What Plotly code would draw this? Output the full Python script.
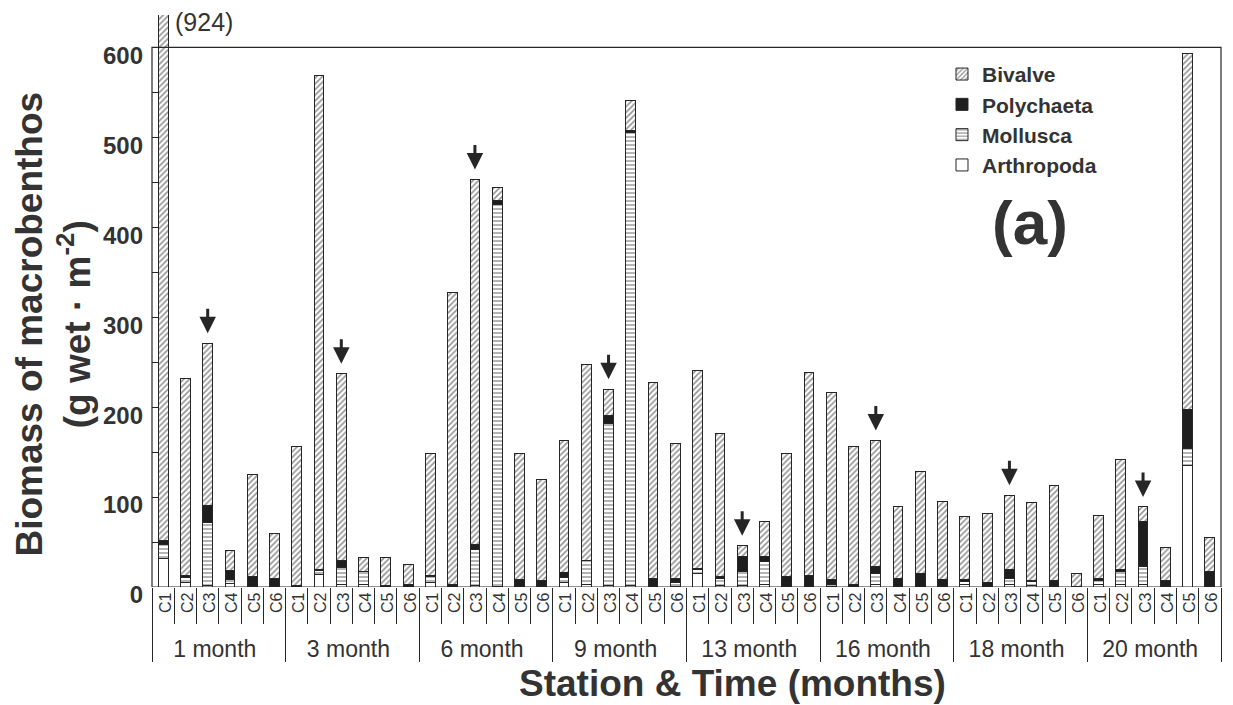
import plotly.graph_objects as go

months = ["1 month", "3 month", "6 month", "9 month", "13 month", "16 month", "18 month", "20 month"]
stations = ["C1", "C2", "C3", "C4", "C5", "C6"]

arthropoda = [32, 5, 2, 4, 1, 0,
              0, 14, 3, 3, 0, 0,
              5, 0, 2, 1, 0, 0,
              5, 3, 2, 2, 0, 1,
              15, 2, 2, 3, 0, 0,
              1, 0, 3, 0, 0, 0,
              3, 0, 3, 2, 0, 0,
              3, 3, 3, 0, 135, 0]
mollusca = [15, 6, 70, 4, 0, 0,
            0, 4, 19, 14, 0, 0,
            7, 0, 40, 424, 0, 0,
            6, 26, 180, 503, 0, 4,
            4, 8, 15, 25, 0, 0,
            2, 1, 12, 0, 0, 0,
            3, 0, 7, 4, 0, 0,
            4, 14, 20, 0, 19, 0]
polychaeta = [5, 2, 19, 10, 11, 10,
              2, 1, 8, 0, 2, 3,
              1, 3, 5, 5, 8, 7,
              5, 1, 9, 3, 9, 5,
              2, 2, 17, 6, 12, 13,
              5, 2, 8, 9, 15, 8,
              2, 5, 9, 1, 7, 1,
              2, 2, 50, 7, 43, 17]
bivalve = [872, 219, 180, 23, 113, 49,
           154, 550, 207, 16, 31, 22,
           135, 324, 406, 14, 140, 113,
           147, 217, 29, 33, 218, 150,
           220, 159, 12, 39, 136, 226,
           208, 153, 140, 80, 113, 87,
           70, 77, 83, 87, 106, 14,
           70, 123, 16, 37, 396, 38]

arrow_station = "C3"
offscale_label = "(924)"

x_outer = [m for m in months for _ in stations]
x_inner = [f"<span style='font-size:16px'>{s}</span>" for _ in months for s in stations]
x = [x_outer, x_inner]
station_of = [s for _ in months for s in stations]

ink = "#262626"
txt = "#333333"
font_family = "Liberation Sans, Arial, sans-serif"

fig = go.Figure()
series = [
    ("Arthropoda", arthropoda, dict(color="white")),
    ("Mollusca", mollusca, dict(color="white", pattern=dict(shape="-", fgcolor=ink, bgcolor="white", size=4, solidity=0.35))),
    ("Polychaeta", polychaeta, dict(color="#1e1e1e")),
    ("Bivalve", bivalve, dict(color="white", pattern=dict(shape="/", fgcolor=ink, bgcolor="white", size=4, solidity=0.4))),
]
for name, vals, mk in series:
    mk = dict(mk)
    mk["line"] = dict(color=ink, width=1)
    fig.add_trace(go.Bar(name=name, x=x, y=vals, marker=mk))

totals = [a + b + c + d for a, b, c, d in zip(arthropoda, mollusca, polychaeta, bivalve)]

annotations = []
for i, s in enumerate(station_of):
    if s == arrow_station:
        annotations.append(dict(x=i, y=totals[i], xref="x", yref="y", text="", showarrow=True,
                                ax=0, ay=-36, arrowhead=2, arrowsize=1.1, arrowwidth=3,
                                arrowcolor=ink, standoff=10))

annotations += [
    dict(x=0.45, y=628, xref="x", yref="y", text=offscale_label, showarrow=False,
         xanchor="left", yanchor="middle",
         font=dict(size=25, color=txt, family=font_family)),
    dict(x=0.821, y=0.638, xref="paper", yref="paper", text="<b>(a)</b>", showarrow=False,
         xanchor="center", yanchor="middle",
         font=dict(size=62, color=txt, family=font_family)),
    dict(x=0.5426, y=-0.168, xref="paper", yref="paper", text="<b>Station &amp; Time (months)</b>",
         showarrow=False, xanchor="center", yanchor="middle",
         font=dict(size=37, color=txt, family=font_family)),
    dict(x=-0.092, y=0.46, xref="paper", yref="paper",
         text="<b>Biomass of macrobenthos<br>(g wet · m<sup>-2</sup>)</b>", textangle=-90,
         showarrow=False, xanchor="center", yanchor="middle",
         font=dict(size=37, color=txt, family=font_family)),
]

fig.update_layout(
    width=1225, height=697,
    barmode="stack", bargap=0.56,
    plot_bgcolor="white", paper_bgcolor="white",
    margin=dict(l=144, r=12, t=7, b=118),
    font=dict(family=font_family, color=ink),
    showlegend=True,
    legend=dict(traceorder="reversed", x=0.739, y=0.932, xanchor="left", yanchor="top",
                font=dict(size=21, color=txt, family=font_family, weight="bold"),
                bgcolor="rgba(0,0,0,0)", tracegroupgap=0, itemclick=False),
    annotations=annotations,
    shapes=[dict(type="rect", xref="paper", yref="y", x0=0, x1=1, y0=0, y1=600,
                 line=dict(color=ink, width=1.2), layer="above")],
)
fig.update_xaxes(type="multicategory", showline=False, showgrid=False,
                 tickmode="linear", tick0=0, dtick=1,
                 ticks="outside", tickson="boundaries", ticklen=36, tickcolor=ink, tickwidth=1,
                 tickangle=-90, tickfont=dict(size=23, color=txt, family=font_family),
                 showdividers=True, dividercolor=ink, dividerwidth=1)
fig.update_yaxes(range=[0, 636], dtick=100, tick0=0, showgrid=False, zeroline=False, showline=False,
                 ticks="inside", ticklen=6, tickcolor=ink, ticklabelshift=8, ticklabelstandoff=8,
                 minor=dict(dtick=50, ticks="inside", ticklen=6, tickcolor=ink),
                 tickfont=dict(size=24, color=txt, family=font_family, weight="bold"))

fig.write_html("out.html")
